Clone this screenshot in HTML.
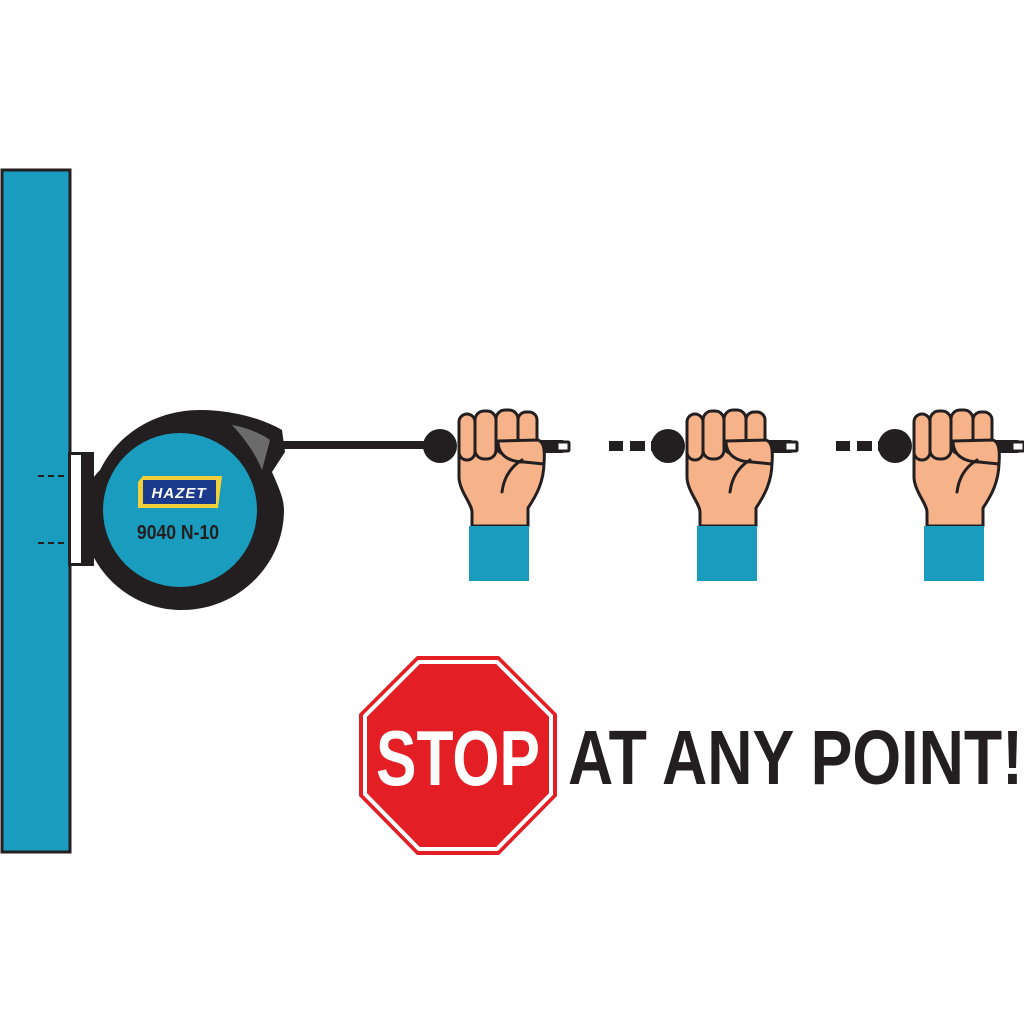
<!DOCTYPE html>
<html><head><style>
html,body{margin:0;padding:0;background:#fff;}
svg{display:block;}
</style></head><body>
<svg width="1024" height="1024" viewBox="0 0 1024 1024" xmlns="http://www.w3.org/2000/svg">
<defs>
<g id="hand">
  <rect x="150" y="40" width="44" height="13" rx="4" fill="#231f20"/>
  <rect x="185" y="42" width="12" height="9" rx="1" fill="#fff" stroke="#231f20" stroke-width="3"/>
  <circle cx="68" cy="46" r="17" fill="#231f20"/>
  <path d="M87,50 L87,78 C88,92 100,104 100,112 L100,126 L156,126 L156,108 C164,96 172,82 172,62 L172,46 C168,40 130,38 128,40 Z" fill="#f6b38a" stroke="#231f20" stroke-width="3" stroke-linejoin="round"/>
  <rect x="87" y="14" width="16" height="46" rx="8" fill="#f6b38a" stroke="#231f20" stroke-width="3"/>
  <rect x="103" y="11" width="21" height="48" rx="9" fill="#f6b38a" stroke="#231f20" stroke-width="3"/>
  <rect x="124" y="10" width="22" height="44" rx="9" fill="#f6b38a" stroke="#231f20" stroke-width="3"/>
  <rect x="146" y="12" width="19" height="36" rx="8" fill="#f6b38a" stroke="#231f20" stroke-width="3"/>
  <path d="M126,41 L166,40 C172,42 173,50 172,64 L152,62 C138,62 126,56 126,41 Z" fill="#f6b38a" stroke="#231f20" stroke-width="3" stroke-linejoin="round"/>
  <path d="M150,60 C140,66 132,76 130,92" fill="none" stroke="#231f20" stroke-width="3" stroke-linecap="round"/>
  <rect x="97" y="126" width="60" height="55" fill="#1a9cbf"/>
</g>
</defs>
<!-- wall -->
<rect x="2" y="170" width="68" height="682" fill="#1a9cbf" stroke="#231f20" stroke-width="3"/>
<line x1="38" y1="476" x2="66" y2="476" stroke="#231f20" stroke-width="2" stroke-dasharray="6,4"/>
<line x1="38" y1="543" x2="66" y2="543" stroke="#231f20" stroke-width="2" stroke-dasharray="6,4"/>
<!-- bracket -->
<rect x="68" y="452" width="26" height="114" fill="#231f20"/>
<rect x="71" y="455" width="10" height="108" fill="#fff"/>
<!-- reel housing -->
<path d="M100,470 C120,430 160,410 200,410 C235,410 265,420 282,430 L285,452 L272,472 C280,490 284,500 284,510 C284,565 238,610 182,610 C126,610 82,565 82,510 C82,495 90,480 100,470 Z" fill="#231f20"/>
<path d="M232,425 C250,428 265,436 270,440 L262,470 C256,455 246,440 232,425 Z" fill="#6b6b6b"/>
<circle cx="180" cy="510" r="77" fill="#1a9cbf"/>
<!-- cable -->
<rect x="282" y="441" width="150" height="8" fill="#231f20"/>
<!-- HAZET logo -->
<polygon points="138,482 143,476 222,476 218,508 138,508" fill="#f2d03b"/>
<rect x="143" y="480" width="73" height="24" fill="#1b3a8c"/>
<text x="179" y="498" font-family="Liberation Sans, sans-serif" font-size="15" font-style="italic" font-weight="bold" fill="#fff" text-anchor="middle" letter-spacing="1">HAZET</text>
<text x="178" y="539" font-family="Liberation Sans, sans-serif" font-size="20" font-weight="bold" fill="#231f20" text-anchor="middle" transform="translate(178,0) scale(0.88,1) translate(-178,0)">9040 N-10</text>
<!-- hands -->
<use href="#hand" transform="translate(372,400)"/>
<use href="#hand" transform="translate(600,400)"/>
<use href="#hand" transform="translate(827,400)"/>
<!-- dashes -->
<g fill="#231f20">
<rect x="609" y="441" width="14" height="10"/><rect x="630" y="441" width="15" height="10"/><rect x="651" y="441" width="6" height="10"/>
<rect x="836" y="441" width="14" height="10"/><rect x="857" y="441" width="15" height="10"/><rect x="878" y="441" width="6" height="10"/>
</g>
<!-- stop sign -->
<polygon points="417,656 499,656 557,714 557,796 499,855 417,855 359,796 359,714" fill="#e31e24"/>
<polygon points="419,662 497,662 551,716 551,794 497,849 419,849 365,794 365,716" fill="none" stroke="#fff" stroke-width="4"/>
<text x="458" y="785" font-family="Liberation Sans, sans-serif" font-size="78" font-weight="bold" fill="#fff" text-anchor="middle" textLength="164" lengthAdjust="spacingAndGlyphs">STOP</text>
<text x="568" y="784" font-family="Liberation Sans, sans-serif" font-size="77" font-weight="bold" fill="#231f20" textLength="455" lengthAdjust="spacingAndGlyphs">AT ANY POINT!</text>
</svg>
</body></html>
